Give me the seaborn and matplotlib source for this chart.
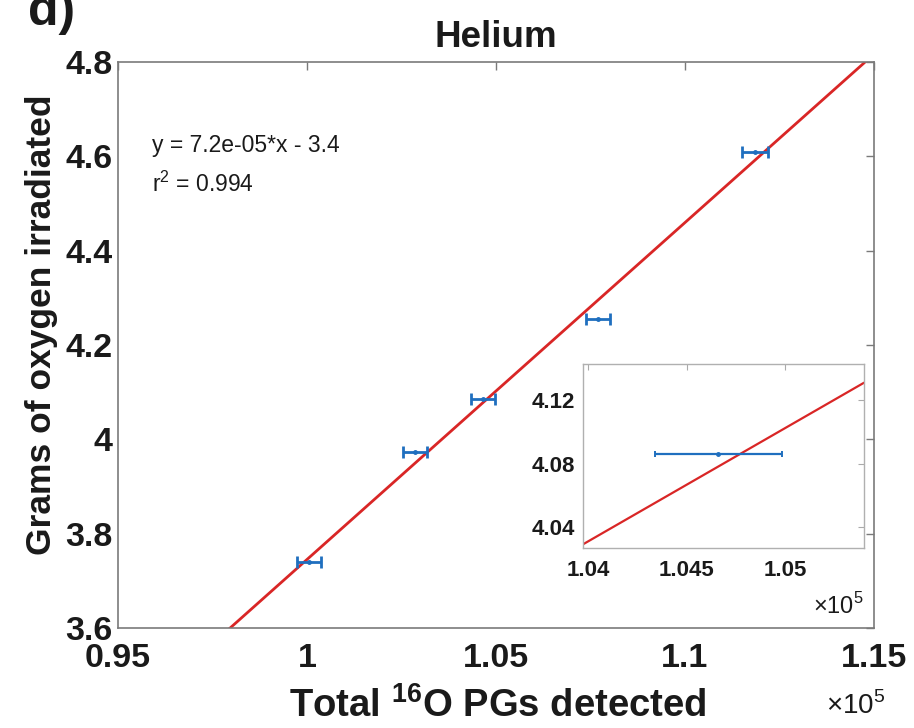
import numpy as np
import pandas as pd
import matplotlib
matplotlib.use("Agg")
import matplotlib.pyplot as plt
import seaborn as sns

# ---- data ----
pg_counts = [100050, 102857, 104662, 107698, 111852]      # Total 16O PGs detected
oxygen_grams = [3.740, 3.973, 4.086, 4.255, 4.609]        # grams of oxygen irradiated
pg_errors = [316, 321, 324, 328, 334]                     # horizontal error (counts)

main_xticks = [95000, 100000, 105000, 110000, 115000]
main_xticklabels = ["0.95", "1", "1.05", "1.1", "1.15"]
main_yticks = [3.6, 3.8, 4.0, 4.2, 4.4, 4.6, 4.8]
main_yticklabels = ["3.6", "3.8", "4", "4.2", "4.4", "4.6", "4.8"]

inset_xticks = [104000, 104500, 105000]
inset_xticklabels = ["1.04", "1.045", "1.05"]
inset_yticks = [4.04, 4.08, 4.12]
inset_yticklabels = ["4.04", "4.08", "4.12"]

fit_text = "y = 7.2e-05*x - 3.4"
r2_text = "r$^2$ = 0.994"

df = pd.DataFrame({"pg": pg_counts, "grams": oxygen_grams, "err": pg_errors})

sns.set_theme(style="white")
plt.rcParams["font.family"] = ["Liberation Sans", "DejaVu Sans"]
plt.rcParams["mathtext.fontset"] = "custom"
plt.rcParams["mathtext.rm"] = "Liberation Sans"
plt.rcParams["mathtext.bf"] = "Liberation Sans:bold"

BLUE = "#1f6fbf"
RED = "#d92626"
FRAME = "#7a7a7a"
TXT = "#1a1a1a"

fig = plt.figure(figsize=(9.14, 7.28), dpi=100)
ax = fig.add_axes([0.1291, 0.1374, 0.8271, 0.7775])

ax.set_xlim(95000, 115000)
ax.set_ylim(3.6, 4.8)
sns.regplot(data=df, x="pg", y="grams", ax=ax, scatter=False, ci=None,
            truncate=False, line_kws=dict(color=RED, lw=2.0))
ax.errorbar(df["pg"], df["grams"], xerr=df["err"], fmt=".", color=BLUE,
            ms=5, lw=2.0, capsize=4, capthick=2.0, zorder=3)
ax.set_xlim(95000, 115000)
ax.set_ylim(3.6, 4.8)

ax.set_xticks(main_xticks)
ax.set_xticklabels(main_xticklabels)
ax.set_yticks(main_yticks)
ax.set_yticklabels(main_yticklabels)
ax.tick_params(direction="in", length=6, width=1, color=FRAME, top=True,
               right=True, labelsize=24.5, labelcolor=TXT)
ax.tick_params(axis="x", pad=11)
ax.tick_params(axis="y", pad=4)
for lab in ax.get_xticklabels() + ax.get_yticklabels():
    lab.set_fontweight("bold")
for s in ax.spines.values():
    s.set_color(FRAME)
    s.set_linewidth(1.2)

ax.set_xlabel("")
ax.set_ylabel("")
fig.text(0.545, 1 - 706 / 728, "Total $\\mathbf{^{16}}$O PGs detected", fontsize=27.5,
         fontweight="bold", ha="center", va="center", color=TXT)
fig.text(42 / 914, 1 - 325 / 728, "Grams of oxygen irradiated", fontsize=25.5,
         fontweight="bold", rotation=90, ha="center", va="center", color=TXT)
fig.text(856 / 914, 1 - 706 / 728, "$\\times10^5$", fontsize=20, ha="center",
         va="center", color=TXT)
ax.set_title("Helium", fontsize=26.5, fontweight="bold", color=TXT, pad=11)
fig.text(28 / 914, 1 - 25 / 728, "d)", fontsize=36, fontweight="bold",
         va="baseline", ha="left", color=TXT)

ax.text(0.045, 0.852, fit_text, transform=ax.transAxes, fontsize=16.5,
        va="center", ha="left", color=TXT)
ax.text(0.045, 0.783, r2_text, transform=ax.transAxes, fontsize=16.5,
        va="center", ha="left", color=TXT)

# ---- inset ----
axi = fig.add_axes([583 / 914, 1 - 548 / 728, 281 / 914, 184 / 728])
axi.set_xlim(103975, 105400)
axi.set_ylim(4.0268, 4.1427)
sns.regplot(data=df, x="pg", y="grams", ax=axi, scatter=False, ci=None,
            truncate=False, line_kws=dict(color=RED, lw=1.6))
axi.errorbar(df["pg"], df["grams"], xerr=df["err"], fmt=".", color=BLUE,
             ms=5, lw=1.6, capsize=2, capthick=1.4, zorder=3)
axi.set_xlim(103975, 105400)
axi.set_ylim(4.0268, 4.1427)
axi.set_xticks(inset_xticks)
axi.set_xticklabels(inset_xticklabels)
axi.set_yticks(inset_yticks)
axi.set_yticklabels(inset_yticklabels)
axi.tick_params(direction="in", length=4, width=0.8, color="#aaaaaa", top=True,
                right=True, labelsize=16, labelcolor=TXT)
axi.tick_params(axis="x", pad=9)
axi.tick_params(axis="y", pad=6)
for lab in axi.get_xticklabels() + axi.get_yticklabels():
    lab.set_fontweight("bold")
for s in axi.spines.values():
    s.set_color("#b0b0b0")
    s.set_linewidth(1.0)
axi.set_xlabel("")
axi.set_ylabel("")
fig.text(838 / 914, 1 - 606 / 728, "$\\times10^5$", fontsize=17, ha="center",
         va="center", color=TXT)

fig.savefig("out.png", dpi=100)
